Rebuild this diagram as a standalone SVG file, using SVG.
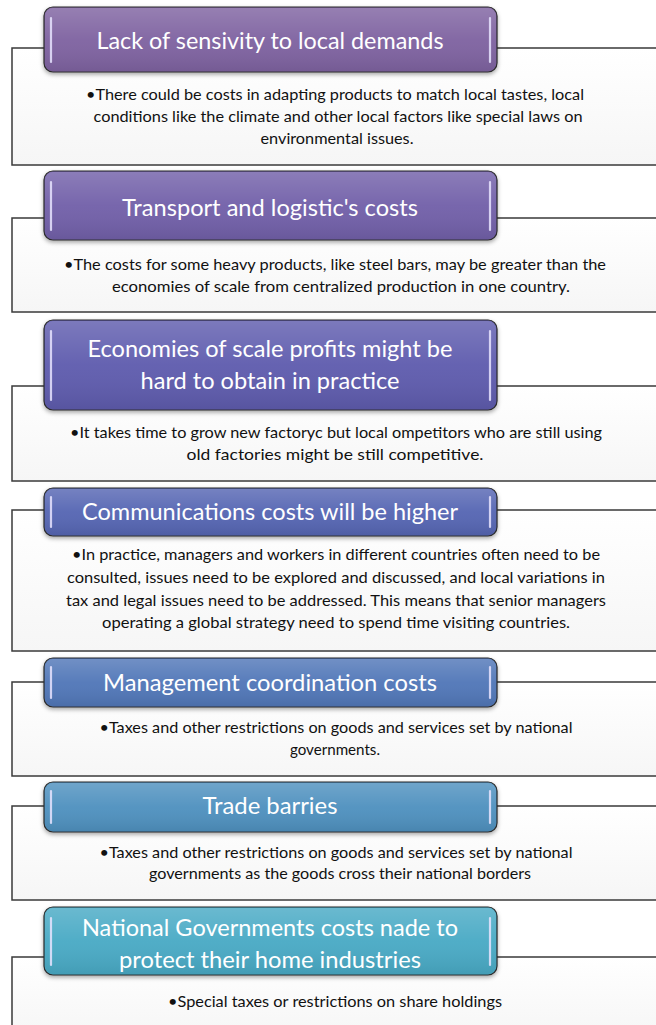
<svg xmlns="http://www.w3.org/2000/svg" width="656" height="1025" viewBox="0 0 656 1025">
<defs>
<style>
.box{fill:url(#boxg);stroke:#3a3a3a;stroke-width:1.5}
.hdr{stroke:#2b2b2b;stroke-width:1.2}
.gloss{fill:url(#gl)}
.hl{stroke:#e8e4ff;stroke-width:2.2;stroke-linecap:round;opacity:0.85}
.ht{font-family:Lato,"Open Sans","Liberation Sans",sans-serif;font-size:23px;fill:#ffffff;text-anchor:middle}
.bt{font-family:Lato,"Open Sans","Liberation Sans",sans-serif;font-size:16px;fill:#111;text-anchor:middle}
</style>
<linearGradient id="boxg" x1="0" y1="0" x2="0" y2="1">
<stop offset="0" stop-color="#ffffff"/>
<stop offset="1" stop-color="#f6f6f6"/>
</linearGradient>
<linearGradient id="gl" x1="0" y1="0" x2="0" y2="1">
<stop offset="0" stop-color="#ffffff" stop-opacity="0.18"/>
<stop offset="0.5" stop-color="#ffffff" stop-opacity="0.04"/>
<stop offset="1" stop-color="#000000" stop-opacity="0.08"/>
</linearGradient>
<filter id="sh" x="-5%" y="-10%" width="110%" height="130%">
<feDropShadow dx="0" dy="2" stdDeviation="2" flood-color="#000" flood-opacity="0.35"/>
</filter>
</defs>
<rect width="656" height="1025" fill="#ffffff"/>
<g id="connectors"/>

<g id="node1">
<rect class="box" x="12" y="48" width="650" height="117"/>
<rect class="hdr" x="44" y="7" width="453" height="65" rx="9" fill="hsl(267,25%,51%)" filter="url(#sh)"/>
<rect class="gloss" x="45" y="8" width="451" height="63" rx="8"/>
<line class="hl" x1="51" y1="18" x2="51" y2="62"/><line class="hl" x1="490" y1="18" x2="490" y2="62"/>
<text class="ht" x="270" y="49" textLength="347" lengthAdjust="spacingAndGlyphs">Lack of sensivity to local demands</text>
<text class="bt" x="335" y="100" textLength="498" lengthAdjust="spacingAndGlyphs">•There could be costs in adapting products to match local tastes, local</text>
<text class="bt" x="338" y="122" textLength="489" lengthAdjust="spacingAndGlyphs">conditions like the climate and other local factors like special laws on</text>
<text class="bt" x="337" y="144" textLength="153" lengthAdjust="spacingAndGlyphs">environmental issues.</text>
</g>

<g id="node2">
<rect class="box" x="12" y="218" width="650" height="94"/>
<rect class="hdr" x="44" y="171" width="453" height="69" rx="9" fill="hsl(255,30%,52%)" filter="url(#sh)"/>
<rect class="gloss" x="45" y="172" width="451" height="67" rx="8"/>
<line class="hl" x1="51" y1="182" x2="51" y2="230"/><line class="hl" x1="490" y1="182" x2="490" y2="230"/>
<text class="ht" x="270" y="216" textLength="296" lengthAdjust="spacingAndGlyphs">Transport and logistic's costs</text>
<text class="bt" x="335" y="270" textLength="542" lengthAdjust="spacingAndGlyphs">•The costs for some heavy products, like steel bars, may be greater than the</text>
<text class="bt" x="341" y="292" textLength="458" lengthAdjust="spacingAndGlyphs">economies of scale from centralized production in one country.</text>
</g>

<g id="node3">
<rect class="box" x="12" y="386" width="650" height="95"/>
<rect class="hdr" x="44" y="320" width="453" height="90" rx="9" fill="hsl(242,34%,52%)" filter="url(#sh)"/>
<rect class="gloss" x="45" y="321" width="451" height="88" rx="8"/>
<line class="hl" x1="51" y1="331" x2="51" y2="400"/><line class="hl" x1="490" y1="331" x2="490" y2="400"/>
<text class="ht" x="270" y="357" textLength="365" lengthAdjust="spacingAndGlyphs">Economies of scale profits might be</text>
<text class="ht" x="270" y="389" textLength="259" lengthAdjust="spacingAndGlyphs">hard to obtain in practice</text>
<text class="bt" x="336" y="438" textLength="532" lengthAdjust="spacingAndGlyphs">•It takes time to grow new factoryc but local ompetitors who are still using</text>
<text class="bt" x="335" y="460" textLength="297" lengthAdjust="spacingAndGlyphs">old factories might be still competitive.</text>
</g>

<g id="node4">
<rect class="box" x="12" y="510" width="650" height="141"/>
<rect class="hdr" x="44" y="488" width="453" height="48" rx="9" fill="hsl(230,38%,52%)" filter="url(#sh)"/>
<rect class="gloss" x="45" y="489" width="451" height="46" rx="8"/>
<line class="hl" x1="51" y1="497" x2="51" y2="527"/><line class="hl" x1="490" y1="497" x2="490" y2="527"/>
<text class="ht" x="270" y="520" textLength="376" lengthAdjust="spacingAndGlyphs">Communications costs will be higher</text>
<text class="bt" x="336" y="560" textLength="528" lengthAdjust="spacingAndGlyphs">•In practice, managers and workers in different countries often need to be</text>
<text class="bt" x="336" y="583" textLength="538" lengthAdjust="spacingAndGlyphs">consulted, issues need to be explored and discussed, and local variations in</text>
<text class="bt" x="336" y="606" textLength="540" lengthAdjust="spacingAndGlyphs">tax and legal issues need to be addressed. This means that senior managers</text>
<text class="bt" x="336" y="628" textLength="468" lengthAdjust="spacingAndGlyphs">operating a global strategy need to spend time visiting countries.</text>
</g>

<g id="node5">
<rect class="box" x="12" y="682" width="650" height="94"/>
<rect class="hdr" x="44" y="658" width="453" height="49" rx="9" fill="hsl(218,42%,52%)" filter="url(#sh)"/>
<rect class="gloss" x="45" y="659" width="451" height="47" rx="8"/>
<line class="hl" x1="51" y1="667" x2="51" y2="698"/><line class="hl" x1="490" y1="667" x2="490" y2="698"/>
<text class="ht" x="270" y="691" textLength="334" lengthAdjust="spacingAndGlyphs">Management coordination costs</text>
<text class="bt" x="336" y="733" textLength="473" lengthAdjust="spacingAndGlyphs">•Taxes and other restrictions on goods and services set by national</text>
<text class="bt" x="335" y="755" textLength="90" lengthAdjust="spacingAndGlyphs">governments.</text>
</g>

<g id="node6">
<rect class="box" x="12" y="806" width="650" height="94"/>
<rect class="hdr" x="44" y="782" width="453" height="50" rx="9" fill="hsl(205,47%,53%)" filter="url(#sh)"/>
<rect class="gloss" x="45" y="783" width="451" height="48" rx="8"/>
<line class="hl" x1="51" y1="791" x2="51" y2="823"/><line class="hl" x1="490" y1="791" x2="490" y2="823"/>
<text class="ht" x="270" y="814" textLength="135" lengthAdjust="spacingAndGlyphs">Trade barries</text>
<text class="bt" x="336" y="858" textLength="473" lengthAdjust="spacingAndGlyphs">•Taxes and other restrictions on goods and services set by national</text>
<text class="bt" x="340" y="879" textLength="382" lengthAdjust="spacingAndGlyphs">governments as the goods cross their national borders</text>
</g>

<g id="node7">
<rect class="box" x="12" y="957" width="650" height="80"/>
<rect class="hdr" x="44" y="907" width="453" height="68" rx="9" fill="hsl(193,52%,53%)" filter="url(#sh)"/>
<rect class="gloss" x="45" y="908" width="451" height="66" rx="8"/>
<line class="hl" x1="51" y1="918" x2="51" y2="965"/><line class="hl" x1="490" y1="918" x2="490" y2="965"/>
<text class="ht" x="270" y="936" textLength="376" lengthAdjust="spacingAndGlyphs">National Governments costs nade to</text>
<text class="ht" x="270" y="968" textLength="302" lengthAdjust="spacingAndGlyphs">protect their home industries</text>
<text class="bt" x="335" y="1007" textLength="334" lengthAdjust="spacingAndGlyphs">•Special taxes or restrictions on share holdings</text>
</g>
</svg>
